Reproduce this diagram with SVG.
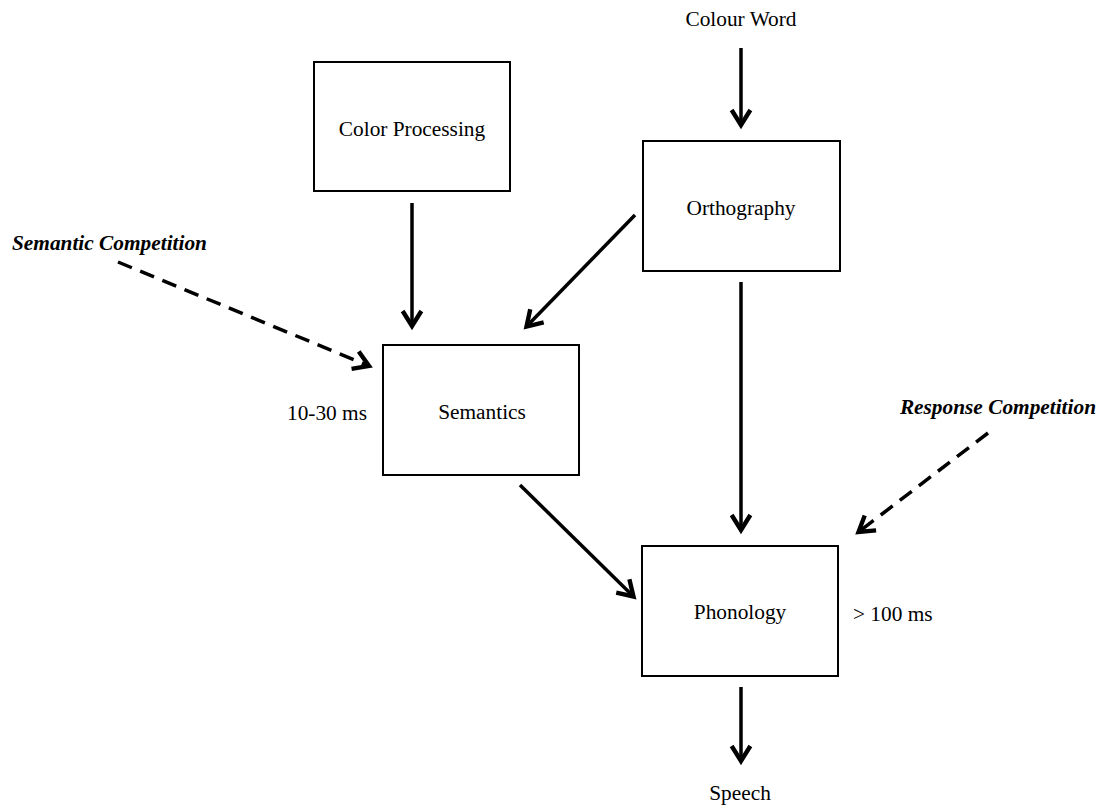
<svg xmlns="http://www.w3.org/2000/svg" width="1104" height="809" viewBox="0 0 1104 809">
<style>
.box{fill:#fff;stroke:#000;stroke-width:2}
.t{font-family:"Liberation Serif","Times New Roman",serif;font-size:21.33px;fill:#000}
.c{text-anchor:middle}
.bi{font-weight:bold;font-style:italic}
.ln{stroke:#000;stroke-width:3.5;fill:none;marker-end:url(#ah)}
.dash{stroke-dasharray:15 9}
</style>
<defs>
<marker id="ah" markerUnits="userSpaceOnUse" markerWidth="30" markerHeight="30" refX="0" refY="0" viewBox="-16 -12 20 24" orient="auto" overflow="visible">
<path d="M-12,-7.5 L0,0 L-12,7.5" fill="none" stroke="#000" stroke-width="3.5" stroke-linejoin="miter" stroke-linecap="butt"/>
</marker>
</defs>
<rect width="1104" height="809" fill="#fff"/>
<g id="colour-word"><text class="t c" x="741" y="26">Colour Word</text></g>
<g id="color-processing"><rect class="box" x="314" y="62" width="196" height="129"/><text class="t c" x="412" y="136">Color Processing</text></g>
<g id="orthography"><rect class="box" x="643" y="141" width="197" height="130"/><text class="t c" x="741" y="215">Orthography</text></g>
<g id="semantics"><rect class="box" x="383" y="345" width="196" height="130"/><text class="t c" x="482" y="419">Semantics</text></g>
<g id="phonology"><rect class="box" x="642" y="546" width="196" height="130"/><text class="t c" x="740" y="619">Phonology</text></g>
<g id="speech"><text class="t c" x="740" y="800">Speech</text></g>
<g id="semantic-competition"><text class="t bi" x="12" y="250">Semantic Competition</text></g>
<g id="response-competition"><text class="t bi" x="1096" y="414" text-anchor="end">Response Competition</text></g>
<g id="label-10-30"><text class="t" x="287" y="420">10-30 ms</text></g>
<g id="label-100"><text class="t" x="853" y="621">&gt; 100 ms</text></g>
<g id="connectors">
<line class="ln" x1="741" y1="48" x2="741" y2="125"/>
<line class="ln" x1="412" y1="203" x2="412" y2="326"/>
<line class="ln" x1="635" y1="215" x2="526.5" y2="326.5"/>
<line class="ln" x1="741" y1="282" x2="741" y2="530"/>
<line class="ln" x1="520" y1="485" x2="633.5" y2="596.5"/>
<line class="ln" x1="741" y1="687" x2="741" y2="761"/>
<line class="ln dash" x1="118" y1="262" x2="369" y2="366"/>
<line class="ln dash" x1="988" y1="433" x2="858.5" y2="532"/>
</g>
</svg>
